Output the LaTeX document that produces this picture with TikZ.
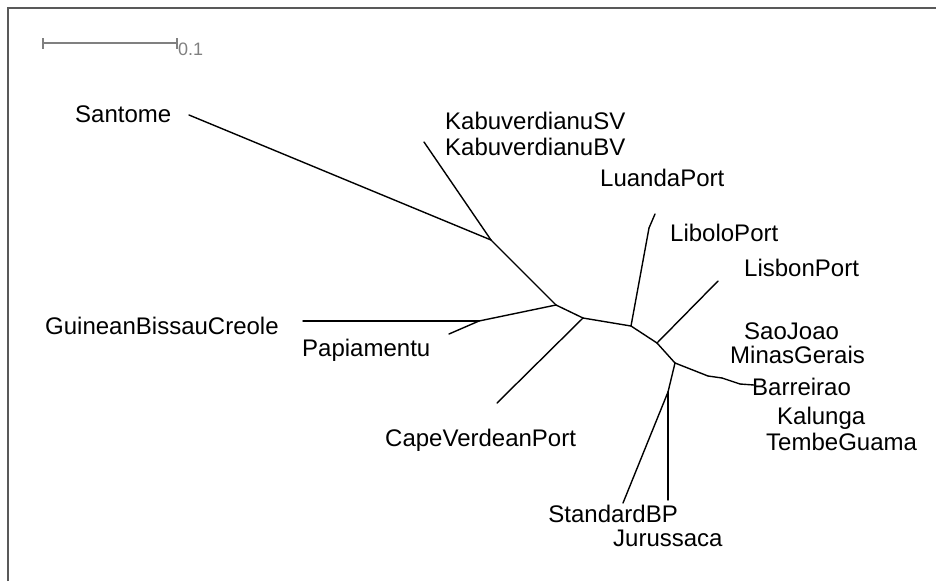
\documentclass[tikz,border=0pt]{standalone}
\usepackage{fontspec}
\setmainfont{Liberation Sans}
\begin{document}
\begin{tikzpicture}[x=1pt,y=-1pt,
    taxon/.style={anchor=base west,inner sep=0pt,font=\fontsize{24}{28}\selectfont},
    branch/.style={line width=1.4pt,line cap=round,line join=round}]
  \useasboundingbox (0,0) rectangle (936,581);
  \draw[line width=1.3pt,black!65] (8,581) -- (8,8) -- (936,8);
  % scale bar
  \coordinate (sbl) at (43,43);
  \coordinate (sbr) at (177,43);
  \node[anchor=base west,inner sep=0pt,text=black!50,font=\fontsize{18}{20}\selectfont] (sbt) at (178,55) {0.1};
  \begin{scope}[black!50,line width=1.2pt]
    \draw (sbl) to (sbr);
    \draw ([yshift=-5.5]sbl) to ([yshift=5.5]sbl);
    \draw ([yshift=-5.5]sbr) to ([yshift=5.5]sbr);
  \end{scope}
  % inner nodes
  \draw
    (491,240) coordinate (a)
    (556,305) coordinate (b)
    (583,318) coordinate (c)
    (479,321) coordinate (d)
    (631,326) coordinate (e)
    (649,228) coordinate (f)
    (657,343) coordinate (g)
    (675,363) coordinate (h)
    (668,392) coordinate (k)
    (708,376) coordinate (m1)
    (722,378) coordinate (m2)
    (740,384) coordinate (m3);
  % leaves
  \draw
    (189,115) coordinate (santome)
    (424,142) coordinate (kabu)
    (303,321) coordinate (guinea)
    (449,334) coordinate (papi)
    (497,403) coordinate (capeport)
    (655,214) coordinate (luanda)
    (718,281) coordinate (lisbon)
    (754,385) coordinate (barr)
    (623,503) coordinate (stdbp)
    (668,500) coordinate (juru);
  % labels
  \node[taxon] (lsantome) at (75,122) {Santome};
  \node[taxon] (lkabusv) at (445,129) {KabuverdianuSV};
  \node[taxon] (lkabubv) at (445,155) {KabuverdianuBV};
  \node[taxon] (lluanda) at (600,186) {LuandaPort};
  \node[taxon] (llibolo) at (670,241) {LiboloPort};
  \node[taxon] (llisbon) at (744,276) {LisbonPort};
  \node[taxon] (lguinea) at (45,334) {GuineanBissauCreole};
  \node[taxon] (lpapi) at (302,356) {Papiamentu};
  \node[taxon] (lcape) at (385,446) {CapeVerdeanPort};
  \node[taxon] (lsao) at (744,339) {SaoJoao};
  \node[taxon] (lminas) at (730,363) {MinasGerais};
  \node[taxon] (lbarr) at (752,395) {Barreirao};
  \node[taxon] (lkalunga) at (777,424) {Kalunga};
  \node[taxon] (ltembe) at (766,450) {TembeGuama};
  \node[taxon,anchor=base east] (lstd) at (678,522) {StandardBP};
  \node[taxon] (ljuru) at (613,546) {Jurussaca};
  \begin{scope}[branch]
    \draw (a) to (santome);
    \draw (a) to (kabu);
    \draw (a) to (b);
    \draw (b) to (d);
    \draw (d) to (guinea);
    \draw (d) to (papi);
    \draw (b) to (c);
    \draw (c) to (capeport);
    \draw (c) to (e);
    \draw (e) to (f);
    \draw (f) to (luanda);
    \draw (e) to (g);
    \draw (g) to (lisbon);
    \draw (g) to (h);
    \draw (h) to (m1);
    \draw (m1) to (m2);
    \draw (m2) to (m3);
    \draw (m3) to (barr);
    \draw (h) to (k);
    \draw (k) to (stdbp);
    \draw (k) to (juru);
  \end{scope}
\end{tikzpicture}
\end{document}
